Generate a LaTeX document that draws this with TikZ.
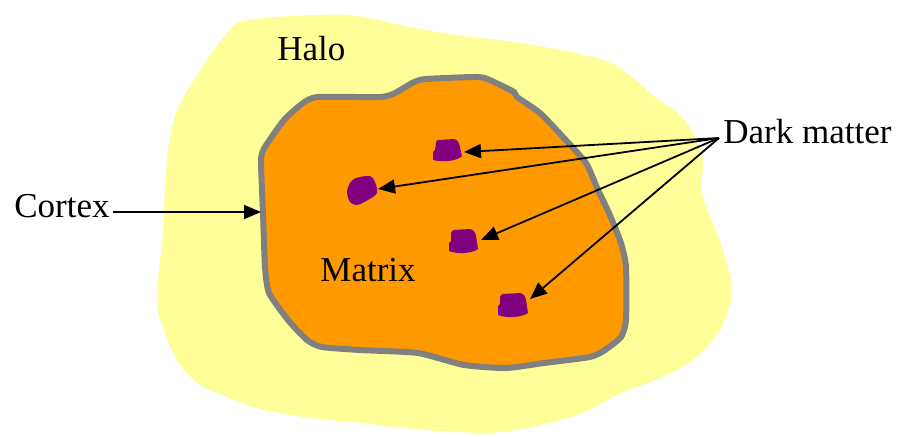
\documentclass[tikz,border=0pt]{standalone}
\usepackage{fontspec}
\setmainfont{Liberation Serif}
\usetikzlibrary{arrows.meta}
\definecolor{halocol}{HTML}{FFFF99}
\definecolor{matrixcol}{HTML}{FF9900}
\definecolor{cortexcol}{HTML}{808080}
\definecolor{dmcol}{HTML}{800080}
\begin{document}
\begin{tikzpicture}[x=0.5pt,y=-0.5pt,
  lbl/.style={font=\fontsize{17.5}{20}\selectfont, inner sep=0pt, anchor=base west},
  arr/.style={-{Triangle[length=8.5pt,width=7pt]}, line width=0.9pt},
  blob/.style={fill=dmcol}]
\useasboundingbox (0,0) rectangle (904,436);
% halo
\fill[halocol] plot[smooth cycle, tension=0.45] coordinates {
 (240,22) (276,17) (349,15) (410,27) (456,35) (514,42) (571,52) (609,62)
 (632,77) (655,97) (678,113) (693,133) (703,160) (701,190) (709,213)
 (724,253) (732,290) (726,317) (713,340) (693,360) (663,377) (621,393)
 (582,413) (533,427) (487,433) (426,430) (360,423) (303,417) (253,407)
 (204,387) (184,370) (173,353) (165,333) (158,310) (158,280) (163,233)
 (165,187) (169,143) (177,110) (192,83) (207,60) (227,33)};
% matrix + cortex
\draw[line width=3pt, draw=cortexcol, fill=matrixcol, line join=round]
 plot[smooth cycle, tension=0.35] coordinates {
 (261,160) (265,147) (284,120) (303,103) (318,97) (380,97) (395,93)
 (414,82) (426,79) (479,77) (494,82) (514,92) (517,97) (540,113)
 (563,137) (586,163) (598,190) (609,213) (621,243) (626,267) (626,320)
 (621,337) (605,350) (590,357) (544,363) (506,368) (464,365) (418,353)
 (360,350) (322,347) (307,340) (288,320) (269,293) (265,267) (263,213)};
% dark matter blobs
\fill[blob] (438,140) -- (454,139) .. controls (458,140) and (459,143) .. (460,147)
 -- (462,156) .. controls (456,162) and (440,162) .. (433,160) -- (433,152)
 -- (435,150) -- (436,143) .. controls (436,141) and (437,140) .. (438,140) -- cycle;
\fill[blob] plot[smooth cycle, tension=0.5] coordinates {
 (356,178) (370,176) (375,182) (377,193) (368,200) (357,205) (350,202) (347,192) (350,183)};
\fill[blob] (454,230) -- (470,229) .. controls (474,230) and (475,232) .. (476,236)
 -- (478,249) .. controls (471,254) and (456,254) .. (449,251) -- (449,243)
 -- (451,241) -- (451,233) .. controls (452,231) and (453,230) .. (454,230) -- cycle;
\fill[blob] (503,294) -- (520,293) .. controls (524,294) and (525,296) .. (526,300)
 -- (528,313) .. controls (521,318) and (505,318) .. (498,315) -- (498,306)
 -- (500,304) -- (500,297) .. controls (501,295) and (502,294) .. (503,294) -- cycle;
% labels
\node[lbl] (halo) at (277,60) {Halo};
\node[lbl] (matrix) at (320,281) {Matrix};
\node[lbl] (cortex) at (14,217) {Cortex};
\node[lbl] (dark) at (723,143) {Dark matter};
% arrow targets
\coordinate (cx) at (261,212);
\coordinate (dm1) at (464,152);
\coordinate (dm2) at (378,189);
\coordinate (dm3) at (481,240);
\coordinate (dm4) at (530,299);
\coordinate (src) at (719,138);
\coordinate (csrc) at (113,212);
% connectors
\draw[arr] (csrc) -- (cx);
\draw[arr] (src) -- (dm1);
\draw[arr] (src) -- (dm2);
\draw[arr] (src) -- (dm3);
\draw[arr] (src) -- (dm4);
\end{tikzpicture}
\end{document}
